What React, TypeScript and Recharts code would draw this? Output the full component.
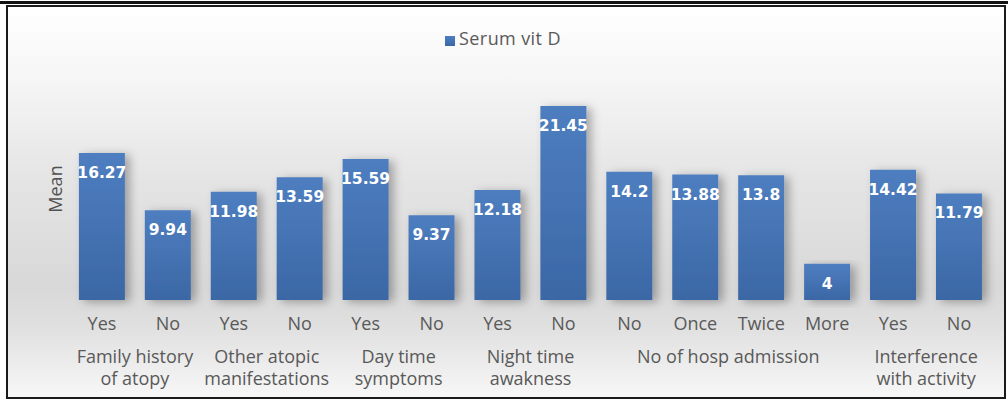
import { BarChart, Bar, XAxis, YAxis, Legend, LabelList } from "recharts";

const categories = ["Yes", "No", "Yes", "No", "Yes", "No", "Yes", "No", "No", "Once", "Twice", "More", "Yes", "No"];
const serumVitD = [16.27, 9.94, 11.98, 13.59, 15.59, 9.37, 12.18, 21.45, 14.2, 13.88, 13.8, 4, 14.42, 11.79];
const groupLabels = [
  ["Family history", "of atopy"],
  ["Other atopic", "manifestations"],
  ["Day time", "symptoms"],
  ["Night time", "awakness"],
  ["No of hosp admission"],
  ["Interference", "with activity"],
];
const groupSizes = [2, 2, 2, 2, 4, 2];

const data = categories.map((c, i) => ({ id: i, category: c, value: serumVitD[i] }));

const W = 1008;
const H = 403;
const legendH = 20;
const margin = { top: 74 - legendH, right: 16, bottom: 73, left: 9 };
const yAxisWidth = 60;
const band = (W - margin.left - margin.right - yAxisWidth) / categories.length;

// first index of each group -> group number
const groupStart: Record<number, number> = {};
let acc = 0;
groupSizes.forEach((s, g) => {
  groupStart[acc] = g;
  acc += s;
});

const textStyle = { fontFamily: "'Open Sans', sans-serif", fontSize: 18, fill: "#595959" };

const CategoryTick = (props: any) => {
  const { x, y, index } = props;
  const g = groupStart[index];
  const gx = g !== undefined ? x + ((groupSizes[g] - 1) * band) / 2 : 0;
  return (
    <g>
      <text x={x} y={y + 22} textAnchor="middle" {...textStyle}>
        {categories[index]}
      </text>
      {g !== undefined &&
        groupLabels[g].map((line, k) => (
          <text key={k} x={gx} y={y + 55 + k * 22} textAnchor="middle" {...textStyle}>
            {line}
          </text>
        ))}
    </g>
  );
};

const MeanLabel = (props: any) => {
  const { viewBox } = props;
  const cx = viewBox.x + viewBox.width - 14;
  const cy = viewBox.y + viewBox.height / 2 + 2;
  return (
    <text
      x={cx}
      y={cy}
      transform={`rotate(-90 ${cx} ${cy})`}
      textAnchor="middle"
      dominantBaseline="central"
      {...textStyle}
      fill="#505050"
    >
      Mean
    </text>
  );
};

export default function App() {
  return (
    <div
      style={{
        position: "absolute",
        left: 0,
        top: 0,
        width: W,
        height: H,
        background: "#fff",
      }}
    >
      {/* top rule */}
      <div style={{ position: "absolute", left: 0, top: 1, width: W, height: 3, background: "#111" }} />
      {/* framed chart area */}
      <div
        style={{
          position: "absolute",
          left: 6,
          top: 5,
          width: 1000,
          height: 394,
          boxSizing: "border-box",
          border: "2px solid #1a1a1a",
          background:
            "linear-gradient(to bottom, #ffffff 0%, #f6f6f6 18%, #e4e4e4 45%, #d8d8d8 72%, #e0e0e0 82%, #f7f7f7 100%)",
        }}
      />
      <div style={{ position: "absolute", left: 0, top: 0 }}>
        <BarChart width={W} height={H} data={data} margin={margin} barCategoryGap="15%">
          <defs>
            <linearGradient id="barFill" x1="0" y1="0" x2="0" y2="1">
              <stop offset="0%" stopColor="#4e7ec0" />
              <stop offset="100%" stopColor="#3b67a5" />
            </linearGradient>
            <filter id="barShadow" x="-30%" y="-10%" width="160%" height="130%">
              <feDropShadow dx="5" dy="2" stdDeviation="5" floodColor="#000" floodOpacity="0.3" />
            </filter>
          </defs>
          <XAxis
            dataKey="id"
            axisLine={false}
            tickLine={false}
            interval={0}
            height={30}
            tick={<CategoryTick />}
          />
          <YAxis
            domain={[0, 25]}
            width={yAxisWidth}
            axisLine={false}
            tickLine={false}
            tick={false}
            label={<MeanLabel />}
          />
          <Legend
            verticalAlign="top"
            iconType="square"
            iconSize={10}
            height={legendH}
            wrapperStyle={{ top: 26, left: 4, width: W }}
            formatter={(v) => (
              <span
                style={{ color: "#595959", fontFamily: "'Open Sans', sans-serif", fontSize: 18, letterSpacing: 0.4 }}
              >
                {v}
              </span>
            )}
          />
          <Bar
            dataKey="value"
            name="Serum vit D"
            fill="url(#barFill)"
            legendType="square"
            filter="url(#barShadow)"
            isAnimationActive={false}
          >
            <LabelList
              dataKey="value"
              position="insideTop"
              offset={14}
              fill="#ffffff"
              fontSize={15.5}
              fontWeight="bold"
              fontFamily="'DejaVu Sans', sans-serif"
            />
          </Bar>
        </BarChart>
      </div>
    </div>
  );
}
